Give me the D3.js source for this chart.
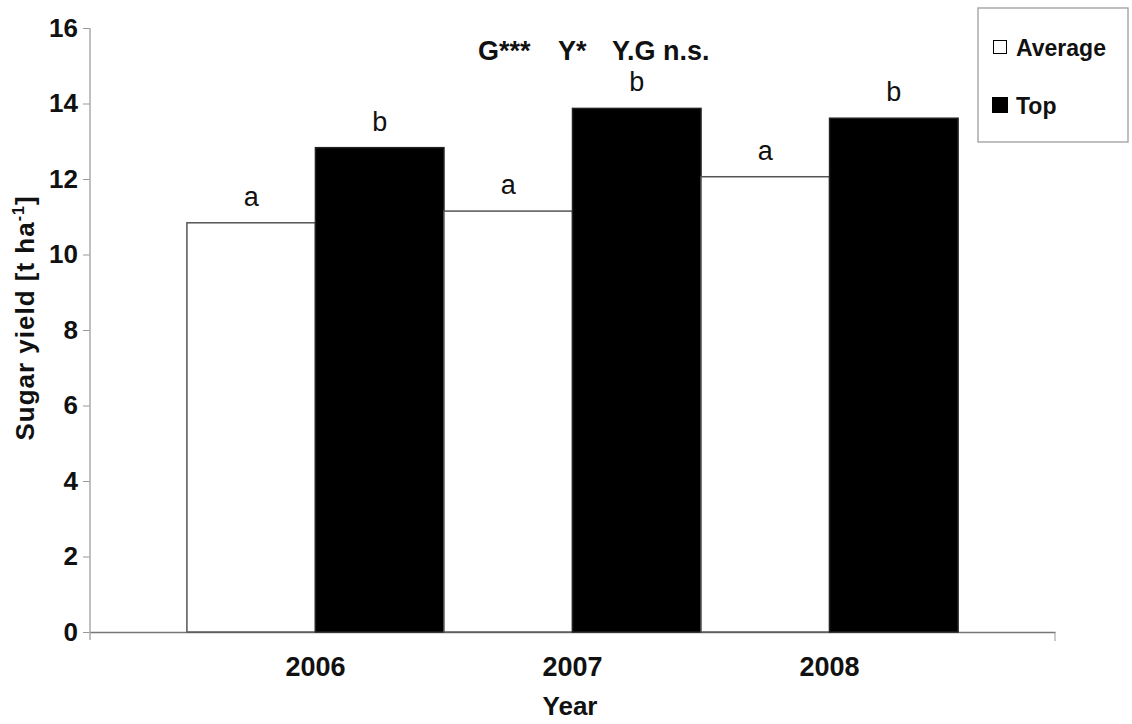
<!DOCTYPE html>
<html><head><meta charset="utf-8">
<script src="https://cdn.jsdelivr.net/npm/d3@7"></script>
<style>body{margin:0;background:#fff}svg{display:block;font-family:"Liberation Sans",Arial,sans-serif}</style>
</head><body>
<svg id="c" width="1132" height="724"></svg>
<script>
const years = ["2006","2007","2008"];
const seriesNames = ["Average","Top"];
const averageValues = [10.84, 11.15, 12.06];
const topValues = [12.83, 13.87, 13.61];
const averageLetters = ["a","a","a"];
const topLetters = ["b","b","b"];
const yTicks = [0,2,4,6,8,10,12,14,16];
const annotationParts = ["G***", "Y*", "Y.G n.s."];

const svg = d3.select("#c");
const FF = "Liberation Sans, Arial, sans-serif";
const x0 = 90, x1 = 1055, yBottom = 632, yTop = 28;
const x = d3.scaleBand().domain(years).range([x0, x1]).paddingInner(0).paddingOuter(0.377);
const xs = d3.scaleBand().domain(seriesNames).range([0, x.bandwidth()]).padding(0);
const y = d3.scaleLinear().domain([0,16]).range([yBottom, yTop]);
const fills = {Average:"#fff", Top:"#000"};
const strokes = {Average:"#555", Top:"#222"};

const data = years.map((yr,i)=>({year:yr, vals:[
  {s:"Average", v:averageValues[i], l:averageLetters[i]},
  {s:"Top", v:topValues[i], l:topLetters[i]}]}));

// y axis
const yAxis = d3.axisLeft(y).tickValues(yTicks).tickSize(7).tickPadding(5).tickFormat(d3.format("d"));
const ya = svg.append("g").attr("transform",`translate(${x0},0)`).call(yAxis);
ya.select(".domain").remove();
ya.append("line").attr("x1",0).attr("x2",0).attr("y1",yTop).attr("y2",yBottom+8).attr("stroke","#aaa").attr("stroke-width",1.5);
ya.selectAll(".tick line").attr("stroke","#999");
ya.selectAll(".tick text").attr("font-size",26).attr("font-weight","bold").attr("fill","#111").attr("font-family",FF);

// x axis
const xAxis = d3.axisBottom(x).tickSize(0).tickPadding(25);
const xa = svg.append("g").attr("transform",`translate(0,${yBottom})`).call(xAxis);
xa.select(".domain").attr("stroke","#777").attr("stroke-width",1.5);
xa.selectAll(".tick text").attr("font-size",27).attr("font-weight","bold").attr("fill","#111").attr("font-family",FF).attr("dy","0.71em");
xa.append("line").attr("x1",x1).attr("x2",x1).attr("y1",0).attr("y2",9).attr("stroke","#999");

// bars
const g = svg.append("g");
const groups = g.selectAll("g.yr").data(data).join("g").attr("transform", d=>`translate(${x(d.year)},0)`);
groups.selectAll("rect").data(d=>d.vals).join("rect")
  .attr("x", d=>xs(d.s)).attr("width", xs.bandwidth())
  .attr("y", d=>y(d.v)).attr("height", d=>y(0)-y(d.v))
  .attr("fill", d=>fills[d.s]).attr("stroke",d=>strokes[d.s]).attr("stroke-width",1.5);
groups.selectAll("text").data(d=>d.vals).join("text")
  .attr("x", d=>xs(d.s)+xs.bandwidth()/2).attr("y", d=>y(d.v)-17)
  .attr("text-anchor","middle").attr("font-size",27).attr("fill","#111").text(d=>d.l);

// axis titles
svg.append("text").attr("x",570).attr("y",715).attr("text-anchor","middle")
  .attr("font-size",26).attr("font-weight","bold").attr("fill","#111").text("Year");
const yl = svg.append("text").attr("transform","translate(34,318) rotate(-90)").attr("text-anchor","middle")
  .attr("font-size",26).attr("font-weight","bold").attr("letter-spacing",1).attr("fill","#111");
yl.append("tspan").text("Sugar yield [t ha");
yl.append("tspan").attr("font-size",16).attr("dy",-10).text("-1");
yl.append("tspan").attr("dy",10).text("]");

// annotation
const annX = [478, 558, 612];
annotationParts.forEach((t,i)=>{
  svg.append("text").attr("x",annX[i]).attr("y",60).attr("font-size",27).attr("font-weight","bold")
    .attr("fill","#111").text(t);
});

// legend
const lg = svg.append("g");
lg.append("rect").attr("x",978).attr("y",8).attr("width",150).attr("height",134)
  .attr("fill","#fff").attr("stroke","#aaa").attr("stroke-width",1.5);
seriesNames.forEach((s,i)=>{
  const cy = 47 + i*58;
  const sz = s==="Average"?13:15;
  lg.append("rect").attr("x",1000 - sz/2).attr("y",cy - sz/2).attr("width",sz).attr("height",sz)
    .attr("fill",fills[s]).attr("stroke","#000").attr("stroke-width",1);
  lg.append("text").attr("x",1016).attr("y",cy+9).attr("font-size",23).attr("font-weight","bold").attr("fill","#111").text(s);
});
</script>
</body></html>
